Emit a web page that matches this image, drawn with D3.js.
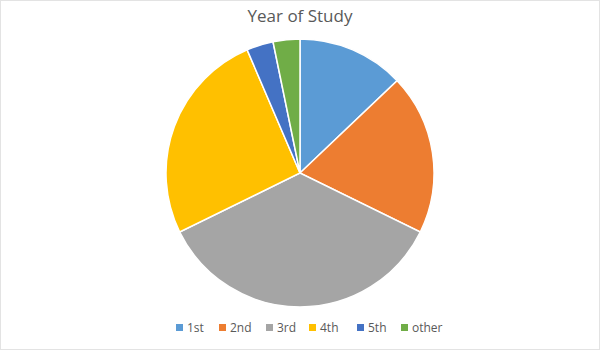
<!DOCTYPE html>
<html><head><meta charset="utf-8">
<script src="https://cdn.jsdelivr.net/npm/d3@7"></script>
<style>body{margin:0;background:#fff}</style>
</head><body>
<svg id="c" width="600" height="350"></svg>
<script>
const categories = ["1st","2nd","3rd","4th","5th","other"];
const values = [4, 6, 11, 8, 1, 1];
const colors = ["#5B9BD5","#ED7D31","#A5A5A5","#FFC000","#4472C4","#70AD47"];
const title = "Year of Study";

const svg = d3.select("#c");
svg.append("rect").attr("x",0.5).attr("y",0.5).attr("width",599).attr("height",349)
  .attr("fill","#fff").attr("stroke","#e3e3e3");
svg.append("text").attr("x",300).attr("y",22).attr("text-anchor","middle")
  .attr("font-family","Open Sans, sans-serif").attr("font-size",17).attr("fill","#595959").text(title);

const cx=300, cy=173, r=134;
const pie = d3.pie().sort(null).value(d=>d);
const arc = d3.arc().innerRadius(0).outerRadius(r);
const color = d3.scaleOrdinal().domain(categories).range(colors);
svg.append("g").attr("transform",`translate(${cx},${cy})`)
  .selectAll("path").data(pie(values)).join("path")
  .attr("d",arc).attr("fill",(d,i)=>color(categories[i]))
  .attr("stroke","#fff").attr("stroke-width",1.5);

const legX = [176,219,266,309,357,401];
const lg = svg.append("g");
categories.forEach((c,i)=>{
  lg.append("rect").attr("x",legX[i]).attr("y",324).attr("width",7).attr("height",7).attr("fill",color(c));
  lg.append("text").attr("x",legX[i]+11).attr("y",332).attr("font-family","Open Sans, sans-serif")
    .attr("font-size",12).attr("fill","#595959").text(c);
});
</script>
</body></html>
